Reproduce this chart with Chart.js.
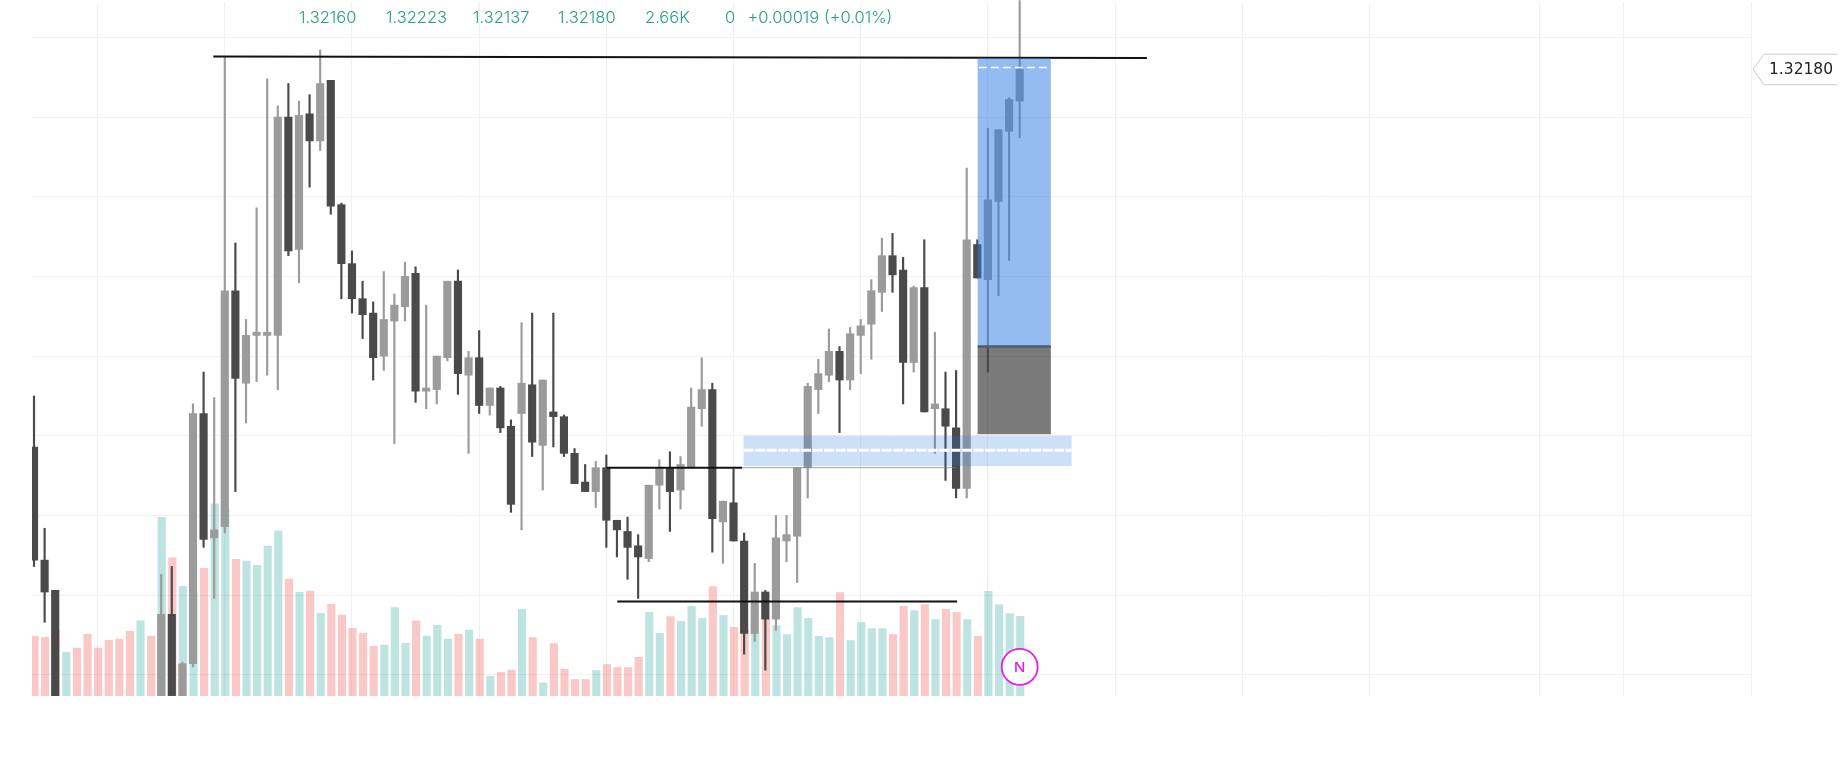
<!DOCTYPE html>
<html>
<head>
<meta charset="utf-8">
<script src="https://cdn.jsdelivr.net/npm/chart.js@4"></script>
<style>
html,body{margin:0;padding:0;background:#fff;overflow:hidden}
#wrap{width:1843px;height:784px;position:relative}
</style>
</head>
<body>
<div id="wrap"><canvas id="c" width="1843" height="784"></canvas></div>
<script>
// Session candles, oldest first. Null slots carry volume only.
const opens = [1.31943,1.31872,1.31853,null,null,null,null,null,null,null,null,null,1.31787,1.31838,1.31787,1.31807,1.31964,1.31886,1.31893,1.32041,1.31983,1.32013,1.32013,1.32013,1.32150,1.32067,1.32152,1.32135,1.32173,1.32095,1.32058,1.32036,1.32027,1.32000,1.32022,1.32031,1.32052,1.31978,1.31979,1.31999,1.32047,1.31988,1.31999,1.31969,1.31980,1.31956,1.31964,1.31982,1.31944,1.31965,1.31962,1.31939,1.31921,1.31915,1.31930,1.31897,1.31890,1.31881,1.31873,1.31919,1.31930,1.31916,1.31930,1.31967,1.31979,1.31896,1.31908,1.31884,1.31826,1.31852,1.31835,1.31884,1.31887,1.31930,1.31979,1.31988,1.32003,1.31985,1.32013,1.32020,1.32040,1.32063,1.32054,1.31996,1.32043,1.31967,1.31967,1.31955,1.31917,1.32070,1.32048,1.32097,1.32141,1.32160];
const highs = [1.31975,1.31892,1.31853,null,null,null,null,null,null,null,null,null,1.31863,1.31868,1.31808,1.31970,1.31990,1.31974,1.32188,1.32071,1.32023,1.32093,1.32174,1.32157,1.32171,1.32160,1.32164,1.32192,1.32173,1.32096,1.32066,1.32047,1.32034,1.32053,1.32039,1.32059,1.32056,1.32032,1.32000,1.32047,1.32054,1.32003,1.32016,1.31980,1.31981,1.31960,1.32021,1.32027,1.31985,1.32027,1.31963,1.31942,1.31932,1.31934,1.31938,1.31897,1.31899,1.31888,1.31919,1.31935,1.31940,1.31937,1.31980,1.31999,1.31983,1.31909,1.31929,1.31889,1.31870,1.31853,1.31900,1.31900,1.31930,1.31983,1.31998,1.32017,1.32006,1.32018,1.32023,1.32048,1.32074,1.32077,1.32062,1.32044,1.32073,1.32015,1.31990,1.31991,1.32118,1.32073,1.32143,1.32142,1.32162,1.32223];
const lows = [1.31868,1.31833,1.31787,null,null,null,null,null,null,null,null,null,1.31787,1.31787,1.31787,1.31805,1.31880,1.31848,1.31889,1.31915,1.31958,1.31984,1.31988,1.31979,1.32063,1.32046,1.32106,1.32129,1.32089,1.32036,1.32027,1.32011,1.31985,1.31991,1.31945,1.32022,1.31971,1.31967,1.31970,1.31997,1.31976,1.31939,1.31964,1.31963,1.31952,1.31902,1.31891,1.31937,1.31916,1.31943,1.31937,1.31920,1.31915,1.31905,1.31880,1.31874,1.31860,1.31848,1.31871,1.31904,1.31890,1.31904,1.31930,1.31956,1.31877,1.31870,1.31884,1.31813,1.31821,1.31803,1.31828,1.31871,1.31858,1.31911,1.31964,1.31984,1.31952,1.31979,1.31989,1.31998,1.32028,1.32040,1.31970,1.31990,1.31965,1.31939,1.31922,1.31911,1.31911,1.32049,1.31990,1.32038,1.32060,1.32137];
const closes = [1.31872,1.31852,1.31787,null,null,null,null,null,null,null,null,null,1.31838,1.31787,1.31807,1.31964,1.31885,1.31891,1.32041,1.31986,1.32013,1.32015,1.32015,1.32150,1.32066,1.32151,1.32135,1.32171,1.32094,1.32058,1.32036,1.32026,1.31999,1.32023,1.32032,1.32050,1.31978,1.31980,1.32000,1.32047,1.31989,1.31999,1.31969,1.31980,1.31955,1.31907,1.31983,1.31946,1.31985,1.31962,1.31939,1.31920,1.31915,1.31930,1.31897,1.31891,1.31880,1.31874,1.31919,1.31930,1.31915,1.31932,1.31968,1.31979,1.31898,1.31909,1.31884,1.31826,1.31852,1.31835,1.31886,1.31888,1.31930,1.31981,1.31989,1.32003,1.31985,1.32014,1.32019,1.32041,1.32063,1.32051,1.31996,1.32043,1.31965,1.31970,1.31956,1.31917,1.32073,1.32049,1.32098,1.32142,1.32161,1.32180];

// Traded volume in thousands and the side each bar closed on (1 up, 0 down).
const volumes = [2.00,1.96,2.19,1.46,1.60,2.06,1.60,1.86,1.90,2.16,2.51,2.00,5.96,4.61,3.66,3.46,4.26,6.41,6.20,4.56,4.50,4.36,5.00,5.50,3.90,3.46,3.50,2.76,3.06,2.70,2.26,2.10,1.66,1.70,2.95,1.76,2.51,2.00,2.36,1.90,2.06,2.20,1.90,0.66,0.79,0.86,2.89,1.95,0.44,1.75,0.89,0.55,0.55,0.85,1.05,0.95,0.95,1.29,2.79,2.09,2.65,2.49,2.99,2.59,3.65,2.69,2.29,2.20,2.10,2.60,2.35,2.05,2.95,2.59,1.99,1.95,3.45,1.85,2.45,2.25,2.25,2.05,2.99,2.85,3.05,2.55,2.89,2.79,2.55,1.99,3.49,3.05,2.75,2.66];
const volumeUp = [0,0,0,1,0,0,0,0,0,0,1,0,1,0,1,1,0,1,1,0,1,1,1,1,0,1,0,1,0,0,0,0,0,1,1,1,0,1,1,1,0,1,0,1,0,0,1,0,1,0,0,0,0,1,0,0,0,0,1,1,0,1,1,1,0,1,0,0,1,0,1,1,1,1,1,1,0,1,1,1,1,0,0,1,0,1,0,0,1,0,1,1,1,1];

// Price and time axes
const priceTicks = [1.322,1.3215,1.321,1.3205,1.32,1.3195,1.319,1.3185,1.318];
const timeTicks = [6,18,30,42,54,66,78,90,102,114,126,142,150,162];

// Drawn levels: [from slot, from price, to slot, to price]
const swingHigh = [16.92,1.32188,105,1.32187];
const rangeTop = [54.03,1.3193,66.8,1.3193];
const rangeTopTail = [66.8,1.3193,87,1.3193];
const swingLow = [55.03,1.31846,87.1,1.31846];

// Position boxes: [from slot, to slot, upper price, lower price]
const targetBox = [89.03,95.94,1.32187,1.32006];
const stopBox = [89.03,95.94,1.32006,1.31951];
const demandBox = [66.95,97.9,1.3195,1.31931];
const targetMid = 1.32181;
const demandMid = 1.31941;
const newsSlot = 93, newsPrice = 1.31805;

const legendTexts = [["1.32160",299],["1.32223",386],["1.32137",473],["1.32180",558],["2.66K",645],["0",725],["+0.00019 (+0.01%)",747.5]];
const lastPrice = closes[closes.length-1];

const UP='#9b9b9b', DOWN='#4a4a4a';
const slots = opens.map((_,i)=>i).filter(i=>opens[i]!==null);
const colorOf = i => closes[i]>=opens[i] ? UP : DOWN;

const levelLine = (seg,color,width,order)=>({
  type:'line', order, borderColor:color, borderWidth:width, pointRadius:0, tension:0, clip:false,
  data:[{x:seg[0],y:seg[1]},{x:seg[2],y:seg[3]}], yAxisID:'y', xAxisID:'x', parsing:false
});

// Boxes, dashed mid lines, the event marker and the text overlays
const overlays = {
  id:'overlays',
  afterDatasetsDraw(chart){
    const {ctx,scales:{x,y}} = chart;
    const rect=(b,fill)=>{ctx.fillStyle=fill;ctx.fillRect(x.getPixelForValue(b[0]),y.getPixelForValue(b[2]),x.getPixelForValue(b[1])-x.getPixelForValue(b[0]),y.getPixelForValue(b[3])-y.getPixelForValue(b[2]));};
    const dash=(a,b,p,w,pat)=>{ctx.save();ctx.strokeStyle='#fff';ctx.lineWidth=w;ctx.setLineDash(pat);ctx.beginPath();ctx.moveTo(x.getPixelForValue(a),y.getPixelForValue(p));ctx.lineTo(x.getPixelForValue(b),y.getPixelForValue(p));ctx.stroke();ctx.restore();};
    ctx.save();
    rect(targetBox,'rgba(41,121,226,0.5)');
    rect(stopBox,'rgba(0,0,0,0.52)');
    rect(demandBox,'rgba(41,121,226,0.23)');
    // divider between the target and stop boxes
    ctx.strokeStyle='#4f5b6c';ctx.lineWidth=2.5;ctx.beginPath();
    ctx.moveTo(x.getPixelForValue(targetBox[0]),y.getPixelForValue(targetBox[3]));
    ctx.lineTo(x.getPixelForValue(targetBox[1]),y.getPixelForValue(targetBox[3]));ctx.stroke();
    dash(targetBox[0]+0.12,targetBox[1]-0.25,targetMid,1.5,[8,4]);
    dash(demandBox[0],demandBox[1],demandMid,3,[10,1.5]);

    // event marker
    const cx=x.getPixelForValue(newsSlot), cy=y.getPixelForValue(newsPrice);
    ctx.beginPath();ctx.arc(cx,cy,18,0,Math.PI*2);ctx.fillStyle='#fff';ctx.fill();
    ctx.strokeStyle='#e51fe5';ctx.lineWidth=1.8;ctx.stroke();
    ctx.fillStyle='#e51fe5';ctx.font='600 15px "Open Sans"';ctx.textAlign='center';ctx.textBaseline='middle';
    ctx.fillText('N',cx,cy+0.5);

    // quote line above the plot
    ctx.fillStyle='#27a085';ctx.font='300 16.5px Inter';ctx.textAlign='left';ctx.textBaseline='middle';
    legendTexts.forEach(([t,px])=>ctx.fillText(t,px,18));

    // last price tag
    const ty=y.getPixelForValue(lastPrice);
    ctx.beginPath();ctx.moveTo(1753,ty);ctx.lineTo(1764,ty-15);ctx.lineTo(1837,ty-15);ctx.moveTo(1837,ty+15.5);ctx.lineTo(1764,ty+15.5);ctx.lineTo(1753,ty);
    ctx.strokeStyle='#c9c9c9';ctx.lineWidth=1;ctx.stroke();
    ctx.fillStyle='#222';ctx.font='500 15.5px "DejaVu Sans"';ctx.textAlign='left';
    ctx.fillText(lastPrice.toFixed(5),1769,ty+0.5);
    ctx.restore();
  }
};

new Chart(document.getElementById('c'),{
  data:{
    datasets:[
      levelLine(swingHigh,'#111',2,0),
      levelLine(rangeTop,'#111',2,0),
      levelLine(rangeTopTail,'rgba(120,120,120,0.7)',1,0),
      levelLine(swingLow,'#111',2,0),
      {type:'bar',order:1,grouped:false,barThickness:7.5,yAxisID:'y',
       data:slots.map(i=>({x:i,y:[opens[i],closes[i]]})),
       backgroundColor:slots.map(colorOf),borderSkipped:false},
      {type:'bar',order:2,grouped:false,barThickness:1.5,yAxisID:'y',clip:false,
       data:slots.map(i=>({x:i,y:[lows[i],highs[i]]})),
       backgroundColor:slots.map(colorOf),borderSkipped:false},
      {type:'bar',order:3,grouped:false,barThickness:7.5,yAxisID:'vol',
       data:volumes.map((v,i)=>({x:i+0.05,y:v})),
       backgroundColor:volumeUp.map(u=>u?'rgba(38,166,154,0.3)':'rgba(239,83,80,0.32)')}
    ]
  },
  plugins:[overlays],
  options:{
    responsive:false, animation:false, devicePixelRatio:1,
    layout:{padding:{left:32,right:92,top:2,bottom:88}},
    plugins:{legend:{display:false},tooltip:{enabled:false}},
    scales:{
      x:{type:'linear',min:-0.19,max:162,offset:false,
         afterBuildTicks(s){s.ticks=timeTicks.map(v=>({value:v}));},
         ticks:{display:false},border:{display:false},
         grid:{offset:false,color:'#f0f0f0',lineWidth:1,drawTicks:false}},
      y:{type:'linear',min:1.3178677,max:1.3222215,
         afterBuildTicks(s){s.ticks=priceTicks.map(v=>({value:v}));},
         ticks:{display:false},border:{display:false},
         grid:{color:'#f0f0f0',lineWidth:1,drawTicks:false}},
      vol:{type:'linear',min:0,max:23.16,display:false}
    }
  }
});
</script>
</body>
</html>
